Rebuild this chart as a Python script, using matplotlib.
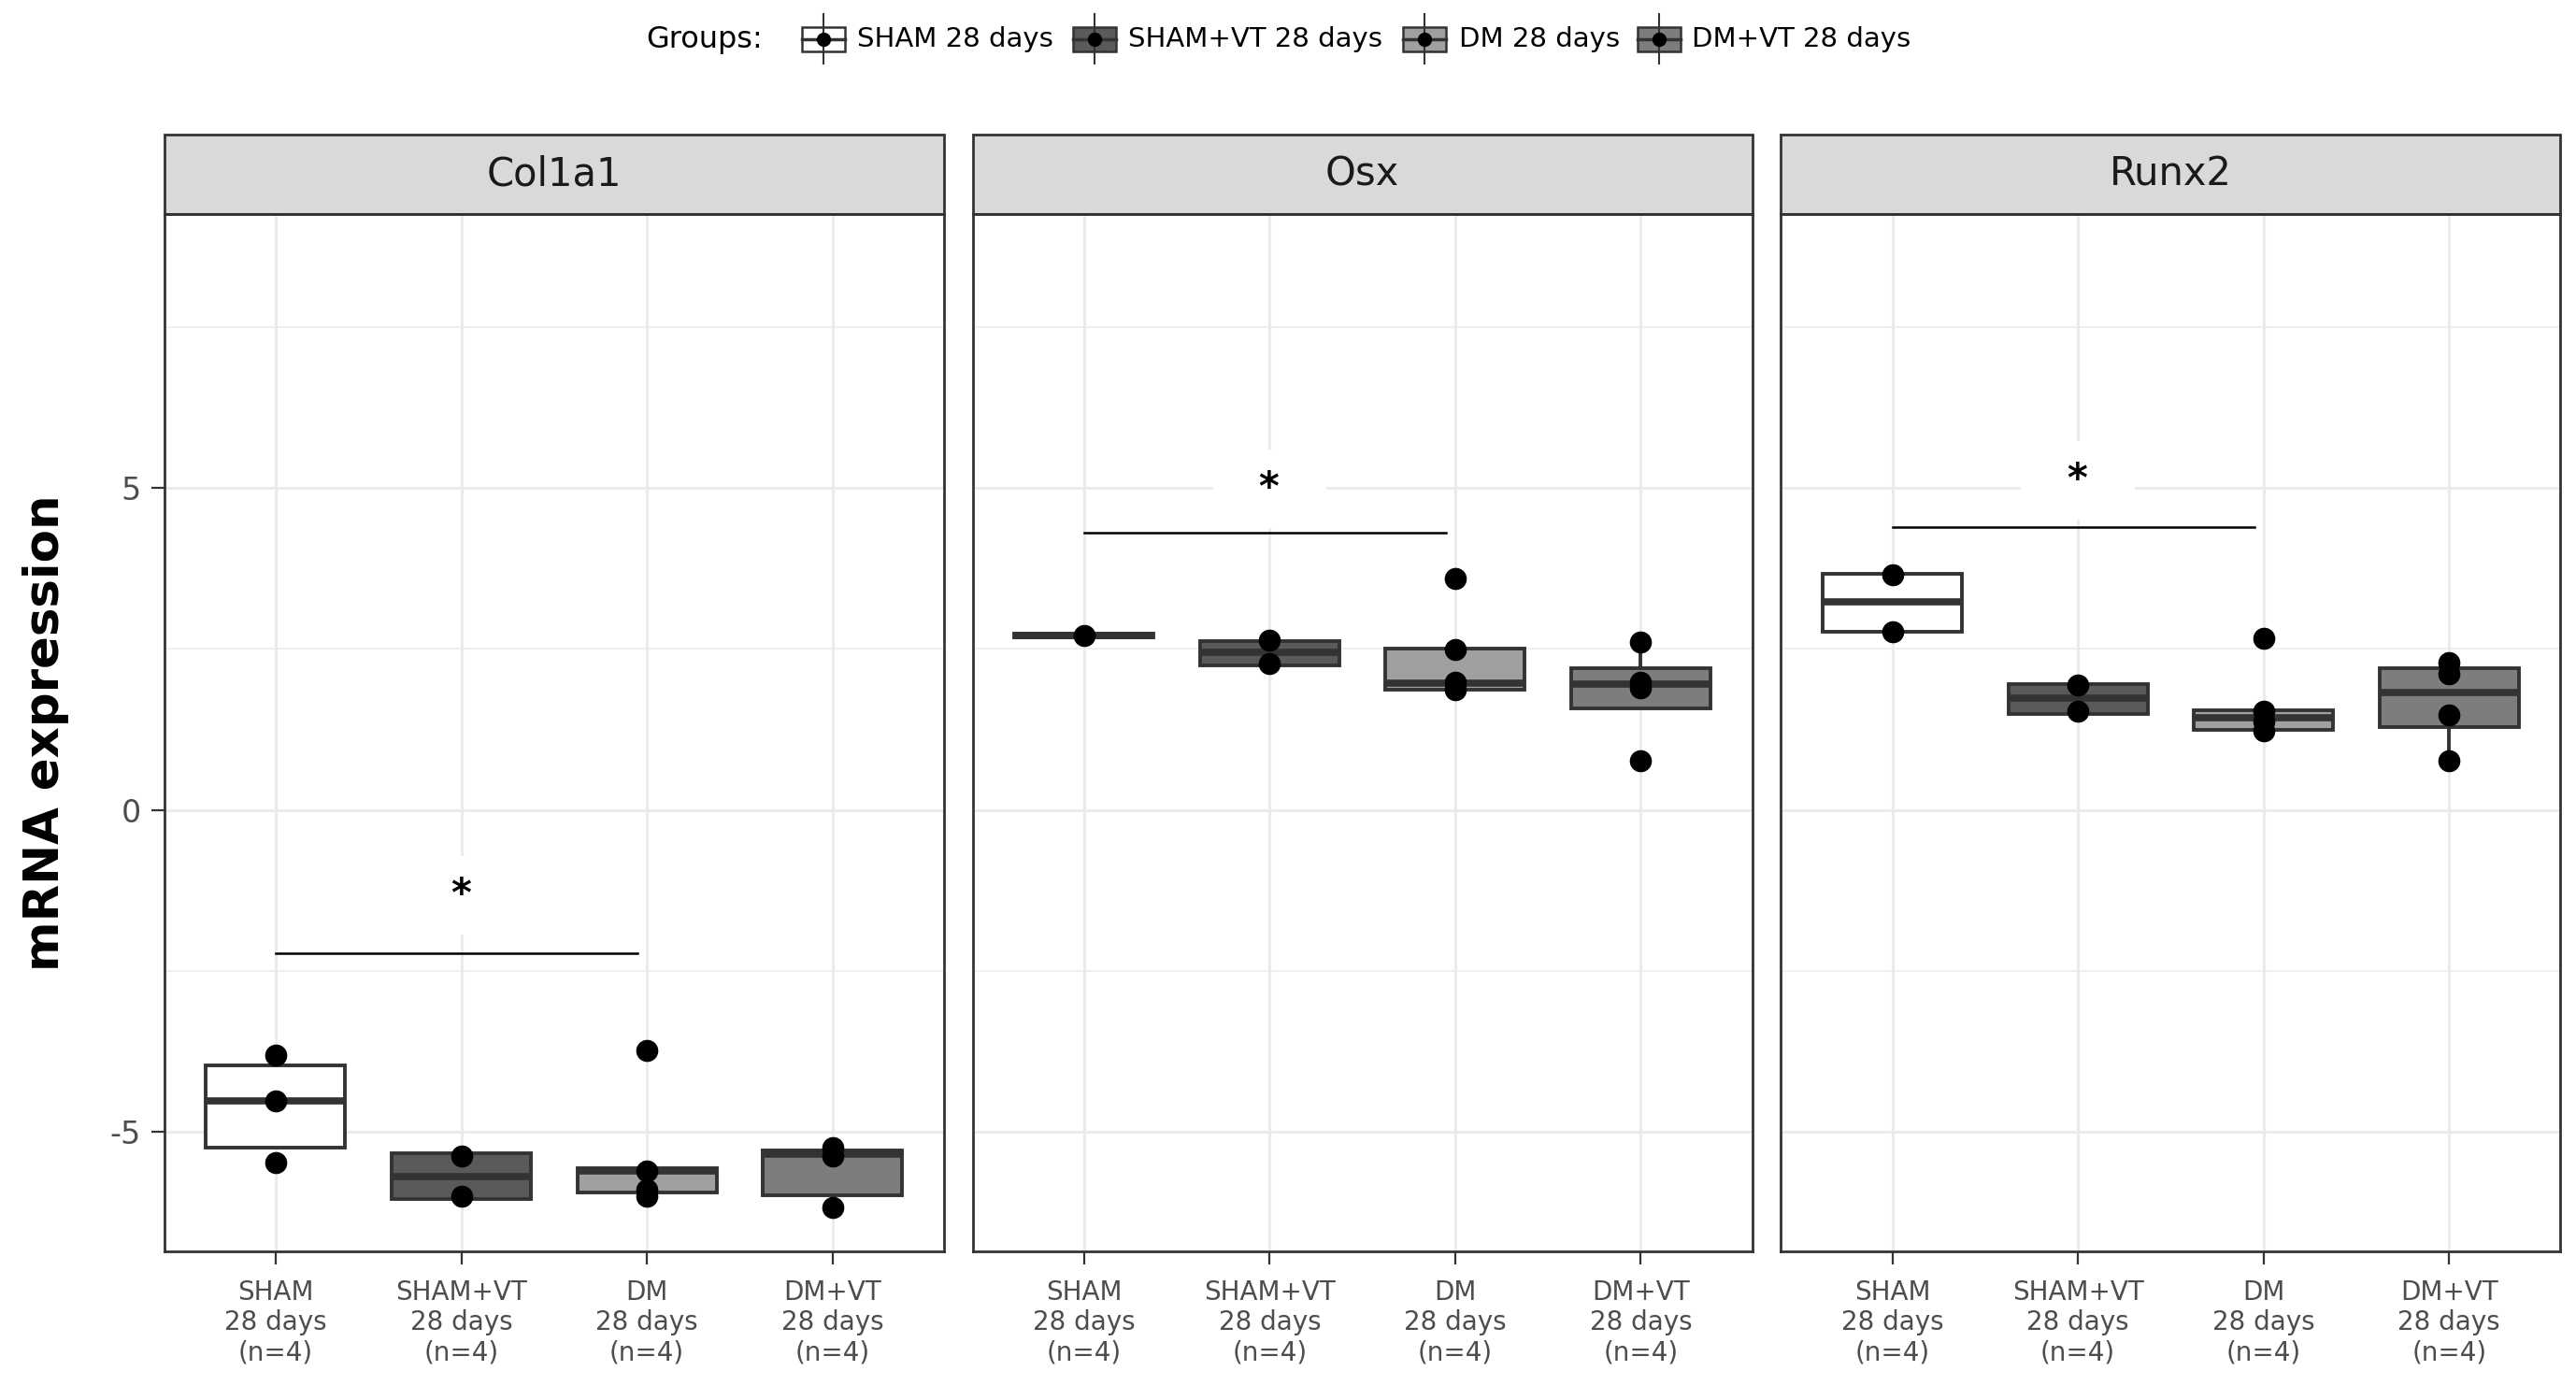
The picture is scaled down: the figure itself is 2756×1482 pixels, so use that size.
import matplotlib
matplotlib.use("Agg")
import matplotlib.pyplot as plt
from matplotlib.patches import Rectangle

plt.rcParams['font.family'] = ['DejaVu Sans']

# ------ data ------
genes = ['Col1a1', 'Osx', 'Runx2']
group_ticks = ['SHAM\n28 days\n(n=4)', 'SHAM+VT\n28 days\n(n=4)',
               'DM\n28 days\n(n=4)', 'DM+VT\n28 days\n(n=4)']
group_names = ['SHAM 28 days', 'SHAM+VT 28 days', 'DM 28 days', 'DM+VT 28 days']
group_fill = ['#ffffff', '#5a5a5a', '#a0a0a0', '#7d7d7d']

box_lower = {'Col1a1': [-5.25, -6.04, -5.94, -5.99],
             'Osx':    [2.68, 2.25, 1.86, 1.58],
             'Runx2':  [2.77, 1.49, 1.24, 1.29]}
box_median = {'Col1a1': [-4.52, -5.69, -5.61, -5.35],
              'Osx':    [2.71, 2.44, 1.97, 1.96],
              'Runx2':  [3.23, 1.74, 1.43, 1.82]}
box_upper = {'Col1a1': [-3.97, -5.33, -5.56, -5.29],
             'Osx':    [2.74, 2.62, 2.50, 2.20],
             'Runx2':  [3.66, 1.96, 1.55, 2.20]}
# whisker ends (same as box edge where no whisker is drawn)
whisk_low = {'Col1a1': [-5.25, -6.04, -5.94, -5.99],
             'Osx':    [2.68, 2.25, 1.86, 1.58],
             'Runx2':  [2.77, 1.49, 1.24, 0.77]}
whisk_high = {'Col1a1': [-3.97, -5.33, -5.56, -5.29],
              'Osx':    [2.74, 2.62, 2.50, 2.61],
              'Runx2':  [3.66, 1.96, 1.55, 2.20]}

points = {'Col1a1': [[-3.81, -4.52, -5.48], [-5.37, -6.00],
                     [-3.74, -5.60, -5.90, -6.00], [-5.25, -5.38, -6.17]],
          'Osx':    [[2.71], [2.63, 2.27],
                     [3.60, 2.49, 1.98, 1.86], [2.61, 1.98, 1.90, 0.77]],
          'Runx2':  [[3.65, 2.77], [1.94, 1.54],
                     [2.66, 1.53, 1.37, 1.23], [2.29, 2.12, 1.47, 0.77]]}

# significance bar SHAM vs DM
sig_line_y = [-2.22, 4.31, 4.39]
sig_star_y = [-1.33, 4.99, 5.12]
sig_from = 1
sig_to = 2.95

y_min, y_max = -6.86, 9.26

# ------ layout (pixels of the 2756x1482 output) ------
W, H = 2756, 1482
fig = plt.figure(figsize=(W / 100, H / 100), dpi=100)

panel_left = [175.8, 1040.6, 1905.4]
panel_w = 834.0
panel_top = 228.5
panel_bottom = 1339.4
strip_top = 144.1
strip_frac = (panel_top - strip_top) / (panel_bottom - panel_top)

for i, gene in enumerate(genes):
    ax = fig.add_axes([panel_left[i] / W, 1 - panel_bottom / H,
                       panel_w / W, (panel_bottom - panel_top) / H])
    ax.set_axisbelow(True)

    stats = []
    for j in range(4):
        stats.append({'med': box_median[gene][j], 'q1': box_lower[gene][j],
                      'q3': box_upper[gene][j], 'whislo': whisk_low[gene][j],
                      'whishi': whisk_high[gene][j], 'fliers': []})
    bp = ax.bxp(stats, positions=[1, 2, 3, 4], widths=0.75, patch_artist=True,
                showcaps=False, showfliers=False,
                boxprops=dict(edgecolor='#333333', linewidth=2.8),
                medianprops=dict(color='#333333', linewidth=5.5, solid_capstyle='butt'),
                whiskerprops=dict(color='#333333', linewidth=2.8))
    for patch, col in zip(bp['boxes'], group_fill):
        patch.set_facecolor(col)

    for j in range(4):
        ys = points[gene][j]
        ax.plot([j + 1] * len(ys), ys, 'o', color='black', ms=16, zorder=4)

    # significance
    ax.text(2, sig_star_y[i], '  *  ', ha='center', va='center', fontsize=30,
            fontweight='bold', zorder=3,
            bbox=dict(boxstyle='square,pad=0.5', fc='white', ec='none'))
    ax.plot([sig_from, sig_to], [sig_line_y[i], sig_line_y[i]], color='black', lw=1.8, zorder=3.5)

    ax.set_xticks([1, 2, 3, 4])
    ax.set_xticklabels(group_ticks, fontsize=20, color='#4d4d4d', linespacing=1.2)
    ax.set_yticks([-5, 0, 5])
    ax.set_yticks([-2.5, 2.5, 7.5], minor=True)
    ax.set_yticklabels(['-5', '0', '5'], fontsize=24, color='#4d4d4d')
    ax.set_xlim(0.4, 4.6)
    ax.set_ylim(y_min, y_max)
    ax.tick_params(which='major', length=10, width=1.6, color='#333333', pad=8)
    ax.tick_params(axis='x', which='major', pad=11)
    ax.tick_params(which='minor', length=0)
    ax.grid(which='major', color='#ebebeb', lw=2.2)
    ax.grid(which='minor', axis='y', color='#ebebeb', lw=1.1)
    if i > 0:
        ax.tick_params(axis='y', which='both', left=False, labelleft=False)
    for sp in ax.spines.values():
        sp.set_color('#333333')
        sp.set_linewidth(2)

    # facet strip
    ax.add_patch(Rectangle((0, 1), 1, strip_frac, transform=ax.transAxes,
                           fc='#d9d9d9', ec='#333333', lw=2, clip_on=False))
    ax.text(0.5, 1 + strip_frac / 2, gene, transform=ax.transAxes, ha='center',
            va='center', fontsize=30, color='#1a1a1a')

fig.text(49 / W, 1 - (panel_top + panel_bottom) / 2 / H, 'mRNA expression',
         rotation=90, ha='center', va='center', fontsize=37, fontweight='bold')

# ------ legend on top ------
lax = fig.add_axes([0, 1 - 84 / H, 1, 84 / H])
lax.set_xlim(0, W)
lax.set_ylim(84, 0)
lax.axis('off')
lax.text(691, 42, 'Groups:', ha='left', va='center', fontsize=23)
key_x = [881, 1171, 1524, 1775]
label_x = [917, 1207, 1561, 1810]
for k in range(4):
    lax.plot([key_x[k], key_x[k]], [15, 68], color='#333333', lw=1.5)
    lax.add_patch(Rectangle((key_x[k] - 23, 29), 46, 26, fc=group_fill[k],
                            ec='#333333', lw=1.8))
    lax.plot([key_x[k] - 23, key_x[k] + 23], [42, 42], color='#333333', lw=2.5)
    lax.plot(key_x[k], 42, 'o', color='black', ms=10)
    lax.text(label_x[k], 42, group_names[k], ha='left', va='center', fontsize=21)

fig.savefig('out.png', dpi=100, facecolor='white')
